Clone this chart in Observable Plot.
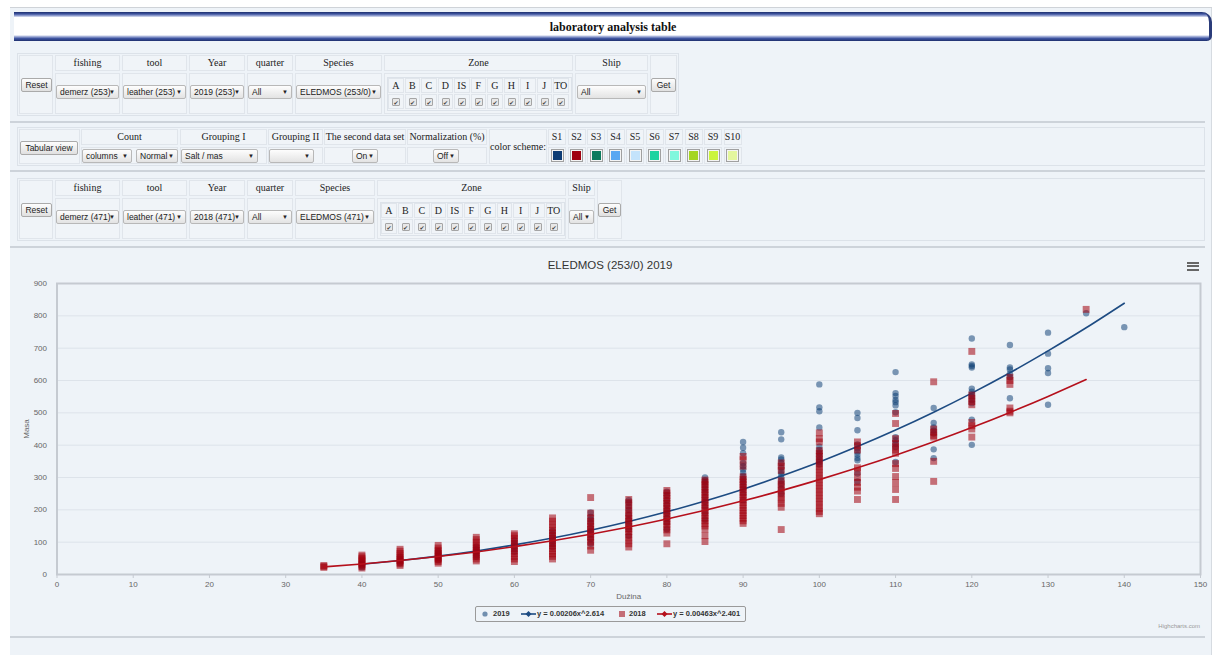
<!DOCTYPE html>
<html><head><meta charset="utf-8">
<script src="https://cdn.jsdelivr.net/npm/d3@7"></script>
<script src="https://cdn.jsdelivr.net/npm/@observablehq/plot@0.6"></script>
<style>
html,body{margin:0;padding:0;}
body{width:1215px;height:655px;overflow:hidden;position:relative;background:#fff;font-family:"Liberation Serif","Times New Roman",serif;}
.a{position:absolute;box-sizing:border-box;}
.frm{border:1px solid #dce2e9;}
.cell{border:1px solid #e0e5eb;background:#f0f4f8;}
.hd{font-size:10px;color:#222;text-align:center;line-height:14px;white-space:nowrap;}
.ctr{text-align:center;font-size:10px;color:#222;line-height:13px;}
.sel{height:14px;font:8.5px "Liberation Sans",Arial,sans-serif;line-height:12px;padding-left:3px;border:1px solid #b8b8b8;border-radius:2px;background:linear-gradient(#fdfdfd,#e3e3e3);color:#222;white-space:nowrap;overflow:hidden;}
.sel::after{content:"\25BC";position:absolute;right:3px;top:0;font-size:6px;line-height:12px;}
.btn{height:14px;font:8.5px "Liberation Sans",Arial,sans-serif;line-height:12px;text-align:center;border:1px solid #aaa;border-radius:2px;background:linear-gradient(#fdfdfd,#e0e0e0);color:#222;white-space:nowrap;}
.chk{width:8px;height:8px;border:1px solid #a5a5a5;border-radius:1px;background:#e8e8e8;font:6px "DejaVu Sans";line-height:7px;text-align:center;color:#444;}
.sep{height:2px;background:#cdd3da;}
.lg{font:bold 7.5px "Liberation Sans",Arial,sans-serif;color:#333;line-height:10px;white-space:nowrap;}
</style></head><body>
<div class="a" style="left:10px;top:8px;width:1202px;height:647px;background:#eef3f8;"></div>
<div class="a" style="left:10px;top:7px;width:1202px;height:1px;background:#cfd3d8;"></div>
<div class="a" style="left:1211px;top:8px;width:1px;height:647px;background:#d6dbe1;"></div>
<div class="a" style="left:14px;top:12px;width:1198px;height:29px;border-right:3px solid #2b3c7a;border-radius:0 10px 5px 0;background:linear-gradient(to bottom,#1e2f6e 0px,#3e54a0 2px,#a3afd8 4px,#fff 5.5px,#fff 23px,#a3afd8 24.5px,#3e54a0 26.5px,#1e2f6e 29px);"></div>
<div class="a" style="left:14px;top:19px;width:1198px;height:16px;text-align:center;font:bold 12px 'Liberation Serif','Times New Roman',serif;line-height:16px;color:#111;">laboratory analysis table</div>
<script>
// ---------------- chart data ----------------
const xTicks = [0, 10, 20, 30, 40, 50, 60, 70, 80, 90, 100, 110, 120, 130, 140, 150];
const yTicks = [0, 100, 200, 300, 400, 500, 600, 700, 800, 900];

const lengths2019 = [40, 45, 50, 55, 60, 65, 70, 75, 80, 85, 90, 95, 100, 105, 110, 115, 120, 125, 130, 135, 140];
const masses2019 = [
  [22, 28, 33, 38],
  [35, 42, 48, 55],
  [45, 52, 58, 65, 72],
  [55, 62, 70, 78, 86],
  [70, 80, 88, 96, 106],
  [85, 95, 105, 115, 125, 135],
  [95, 110, 125, 135, 145, 160, 170, 178, 192],
  [120, 140, 155, 170, 185, 200, 210, 222, 230],
  [140, 160, 175, 190, 200, 215, 230, 245, 256],
  [170, 190, 210, 225, 240, 255, 265, 275, 285, 292, 300],
  [230, 250, 265, 275, 285, 295, 305, 315, 325, 335, 345, 375, 392, 410],
  [250, 266, 280, 290, 300, 310, 318, 330, 345, 356, 362, 418, 440],
  [340, 348, 355, 365, 375, 385, 395, 455, 505, 517, 588],
  [288, 312, 353, 360, 370, 380, 390, 402, 446, 484, 500],
  [348, 394, 405, 415, 425, 502, 523, 533, 540, 552, 561, 626],
  [360, 387, 436, 445, 455, 469, 515],
  [401, 479, 530, 540, 550, 558, 565, 575, 640, 645, 650, 730],
  [545, 610, 620, 634, 640, 710],
  [525, 623, 638, 683, 748],
  [808],
  [765]
];

const lengths2018 = [35, 40, 45, 50, 55, 60, 65, 70, 75, 80, 85, 90, 95, 100, 105, 110, 115, 120, 125, 135];
const masses2018 = [
  [22, 25, 28],
  [20, 25, 30, 35, 40, 45, 50, 55, 60],
  [28, 33, 38, 43, 48, 53, 58, 65, 72, 78],
  [35, 40, 45, 50, 55, 60, 65, 70, 75, 82, 90],
  [42, 48, 55, 62, 68, 74, 80, 86, 92, 100, 108, 115],
  [40, 48, 56, 64, 72, 80, 88, 96, 104, 112, 120, 126],
  [48, 56, 64, 72, 80, 88, 96, 104, 112, 120, 128, 136, 145, 155, 165, 175],
  [75, 88, 100, 108, 116, 124, 132, 140, 148, 156, 165, 175, 190, 238],
  [85, 95, 105, 115, 125, 133, 141, 149, 157, 165, 173, 181, 190, 200, 212, 222, 232],
  [95, 128, 138, 148, 156, 164, 172, 180, 188, 196, 204, 212, 220, 228, 236, 244, 252, 260],
  [102, 120, 140, 150, 158, 166, 174, 182, 190, 198, 206, 214, 222, 230, 238, 246, 254, 262, 270, 278, 286, 292],
  [158, 166, 174, 182, 190, 198, 206, 214, 222, 230, 238, 246, 254, 262, 270, 278, 286, 294, 302, 335, 355, 365],
  [139, 208, 220, 230, 240, 250, 260, 270, 280, 290, 322, 335, 345],
  [188, 195, 205, 215, 225, 235, 245, 255, 265, 275, 285, 295, 305, 315, 325, 335, 345, 355, 365, 375, 383, 410, 420, 438],
  [232, 258, 270, 285, 300, 320, 330, 385, 398, 410],
  [232, 263, 284, 303, 328, 343, 375, 385, 395, 405, 420, 467, 498],
  [288, 350, 425, 430, 440, 450, 596],
  [425, 450, 460, 470, 525, 535, 545, 555, 690],
  [500, 505, 515, 588, 600, 610],
  [820]
];

// trend lines
const trendX2019 = [40, 45, 50, 55, 60, 65, 70, 75, 80, 85, 90, 95, 100, 105, 110, 115, 120, 125, 130, 135, 140];
const trendY2019 = [31.7, 43.2, 56.9, 72.9, 91.6, 112.9, 137, 164, 194, 227.6, 264, 304.5, 348, 395.6, 446.8, 501.9, 561, 624, 691.6, 763, 839];
const trendX2018 = [35, 40, 45, 50, 55, 60, 65, 70, 75, 80, 85, 90, 95, 100, 105, 110, 115, 120, 125, 130, 135];
const trendY2018 = [23.6, 32.5, 43.2, 55.6, 69.8, 86.1, 104.3, 124.6, 147, 171.7, 198.6, 227.8, 259.4, 293.4, 329.9, 368.9, 410.4, 454.5, 501.3, 550.8, 603];

const seriesNames = ["2019", "y = 0.00206x^2.614", "2018", "y = 0.00463x^2.401"];
const chartTitle = "ELEDMOS (253/0) 2019";

// ---------------- form texts ----------------
const filterHeaders = ["fishing", "tool", "Year", "quarter", "Species", "Zone", "Ship"];
const zoneLetters = ["A", "B", "C", "D", "IS", "F", "G", "H", "I", "J", "TO"];
const selects2019 = ["demerz (253)", "leather (253)", "2019 (253)", "All", "ELEDMOS (253/0)"];
const selects2018 = ["demerz (471)", "leather (471)", "2018 (471)", "All", "ELEDMOS (471)"];
const optionHeaders = ["Count", "Grouping I", "Grouping II", "The second data set", "Normalization (%)"];
const optionSelects = ["columns", "Normal", "Salt / mas", "", "On", "Off"];
const schemeLabels = ["S1", "S2", "S3", "S4", "S5", "S6", "S7", "S8", "S9", "S10"];
const schemeColors = ["#0d3c74", "#a0000f", "#0b7b5e", "#5aa8f2", "#c4e3fb", "#1dd3a0", "#80f7dd", "#a5d521", "#cbf53c", "#e4f79d"];

// ---------------- layout helpers ----------------
function box(cls, x, y, w, h, html, css) {
  const d = document.createElement("div");
  d.className = "a " + cls;
  d.style.cssText = `left:${x}px;top:${y}px;width:${w}px;height:${h}px;` + (css || "");
  if (html != null) d.innerHTML = html;
  document.body.appendChild(d);
  return d;
}

function filterRow(top, cols, sels, frameW, shipInset, getX, getW) {
  box("frm", 17, top, frameW, 63);
  box("cell", 19, top + 2, 34, 59);
  box("btn", 21, top + 25, 31, 14, "Reset");
  cols.forEach(([x, w], i) => {
    box("cell hd", x, top + 2, w, 16, filterHeaders[i]);
    box("cell", x, top + 20, w, 41);
    if (i < 5) box("sel", x + 1, top + 32, w - 2, 14, sels[i]);
  });
  const [sx, sw] = cols[6];
  box("sel", sx + shipInset, top + 32, sw - 2 * shipInset, 14, "All");
  const zx = cols[5][0] + 3;
  box("frm", zx, top + 24, 185, 34);
  zoneLetters.forEach((L, i) => {
    const cx = zx + 1 + i * 16.5;
    box("cell ctr", cx, top + 25, 15.5, 15, L, "line-height:13px;");
    const c = box("cell", cx, top + 41, 15.5, 15);
    const k = box("chk", 3, 3, 8, 8, "\u2714");
    c.appendChild(k);
  });
  box("cell", getX, top + 2, getW, 59);
  box("btn", getX + 1, top + 25, getW - 2, 14, "Get");
}

filterRow(53, [[55, 65], [122, 65], [189, 56], [247, 46], [295, 87], [384, 189], [575, 73]], selects2019, 662, 2, 650, 27);
filterRow(178, [[55, 65], [122, 65], [189, 56], [247, 46], [295, 80], [377, 189], [568, 27]], selects2018, 1188, 1, 597, 25);

// options row
box("frm", 17, 127, 1188, 39);
box("cell", 19, 129, 61, 35);
box("btn", 20, 141, 58, 14, "Tabular view");
[[81, 97], [180, 87], [268, 55], [324, 82], [407, 80]].forEach(([x, w], i) => {
  box("cell hd", x, 129, w, 16, optionHeaders[i]);
  box("cell", x, 147, w, 17);
});
[[82, 50], [136, 42], [181, 77], [269, 45], [352, 26], [433, 26]].forEach(([x, w], i) => {
  box("sel", x, 149, w, 14, optionSelects[i]);
});
box("cell ctr", 489, 129, 58, 35, "color scheme:", "line-height:33px;font-size:10px;white-space:nowrap;");
schemeLabels.forEach((s, i) => {
  const x = 548 + i * 19.5;
  box("cell hd", x, 129, 18, 16, s);
  box("cell", x, 147, 18, 17);
  box("", x + 2.5, 149, 13, 13, "", `border:1px solid #a0a0a0;background:${schemeColors[i]};box-shadow:inset 0 0 0 1px #f4f4f4;`);
});

// separators
[121, 170, 246, 636].forEach(y => box("sep", 10, y, 1195, 2));

// chart title, menu icon, credit
box("", 10, 258, 1200, 15, chartTitle, "text-align:center;font:11.5px 'Liberation Sans',Arial,sans-serif;color:#333;line-height:15px;");
[261.5, 265, 268.5].forEach(y => box("", 1187, y, 12, 2, "", "background:#666;"));
box("", 1130, 622, 70, 8, "Highcharts.com", "text-align:right;font:6px 'Liberation Sans',Arial,sans-serif;color:#999;line-height:8px;");

// ---------------- chart ----------------
const pts2019 = lengths2019.flatMap((L, i) => masses2019[i].map(m => ({len: L, mass: m})));
const pts2018 = lengths2018.flatMap((L, i) => masses2018[i].map(m => ({len: L, mass: m})));
const trend2019 = trendX2019.map((x, i) => ({len: x, mass: trendY2019[i]}));
const trend2018 = trendX2018.map((x, i) => ({len: x, mass: trendY2018[i]}));

const chart = Plot.plot({
  width: 1200, height: 326,
  marginLeft: 46.5, marginRight: 10, marginTop: 7, marginBottom: 28,
  style: {background: "transparent", fontFamily: '"Liberation Sans", Arial, sans-serif', fontSize: "8px", color: "#666", overflow: "visible"},
  x: {domain: [0, 150]},
  y: {domain: [0, 900]},
  marks: [
    Plot.gridY(yTicks.filter(v => v > 0 && v < 900), {stroke: "#dde3ea", strokeOpacity: 1}),
    Plot.axisX(xTicks, {tickSize: 4, tickPadding: 3, stroke: "#c5cad1", label: null}),
    Plot.axisY(yTicks, {tickSize: 0, tickPadding: 10, label: null}),
    Plot.dot(pts2019, {x: "len", y: "mass", r: 3.2, fill: "#0b3d73", fillOpacity: 0.52}),
    Plot.line(trend2019, {x: "len", y: "mass", curve: "natural", stroke: "#1d4b82", strokeWidth: 1.6}),
    Plot.dot(pts2018, {x: "len", y: "mass", symbol: "square", r: 3.9, fill: "#a3000d", fillOpacity: 0.55}),
    Plot.line(trend2018, {x: "len", y: "mass", curve: "natural", stroke: "#b5101c", strokeWidth: 1.6}),
    Plot.frame({stroke: "#c5cad1", strokeWidth: 2}),
    Plot.text(["Masa"], {frameAnchor: "left", dx: -31, rotate: -90, textAnchor: "middle", lineAnchor: "middle", fill: "#666"}),
    Plot.text(["Dužina"], {frameAnchor: "bottom", dy: 22, textAnchor: "middle", lineAnchor: "middle", fill: "#666"})
  ]
});
chart.style.position = "absolute";
chart.style.left = "10px";
chart.style.top = "276px";
document.body.appendChild(chart);

// ---------------- legend ----------------
const lg = box("", 475, 606, 271, 16, "", "border:1px solid #9a9a9a;border-radius:2px;");
lg.innerHTML = `
<svg class="a" style="left:0;top:0;overflow:visible" width="269" height="14">
  <circle cx="9" cy="7" r="2.6" fill="#0b3d73" fill-opacity="0.55"/>
  <line x1="45" x2="60" y1="7" y2="7" stroke="#1d4b82" stroke-width="1.6"/>
  <path d="M52.5 4 L55.5 7 L52.5 10 L49.5 7 Z" fill="#1d4b82"/>
  <rect x="143" y="4" width="6" height="6" fill="#a3000d" fill-opacity="0.55"/>
  <line x1="181" x2="196" y1="7" y2="7" stroke="#b5101c" stroke-width="1.6"/>
  <path d="M188.5 4 L191.5 7 L188.5 10 L185.5 7 Z" fill="#b5101c"/>
</svg>`;
[[17, 0], [61, 1], [153, 2], [197, 3]].forEach(([x, i]) => {
  const t = document.createElement("div");
  t.className = "a lg";
  t.style.cssText = `left:${x}px;top:2px;`;
  t.textContent = seriesNames[i];
  lg.appendChild(t);
});
</script>
</body></html>
